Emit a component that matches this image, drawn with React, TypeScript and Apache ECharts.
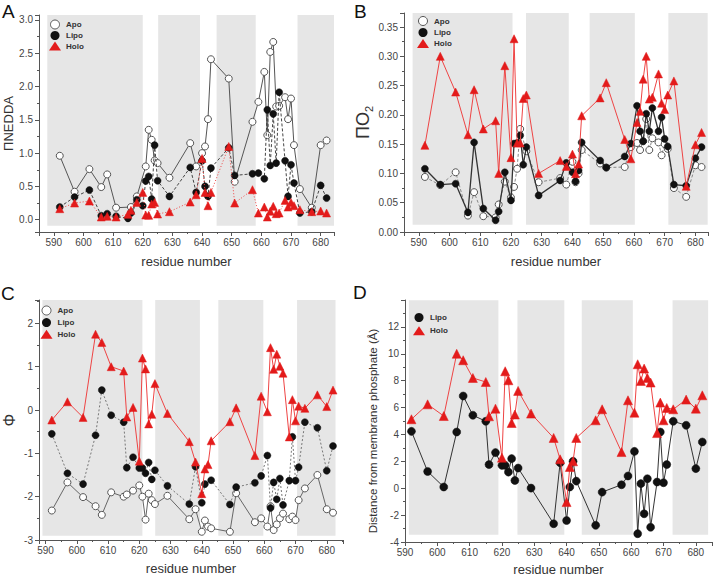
import { useEffect, useRef } from 'react';
import * as echarts from 'echarts';

// residue numbers shared by all panels
const residues = [592, 597, 602, 606, 608, 611, 615, 616, 618, 620, 621, 622, 623, 624, 625, 629, 636, 638, 640, 641, 642, 643, 649, 651, 657, 659, 661, 662, 663, 664, 665, 666, 668, 669, 670, 671, 673, 677, 680, 682];

// Panel A: Π NEDDA
const aApo = [0.96, 0.42, 0.76, 0.49, 0.68, 0.18, null, 0.19, 0.35, null, 0.80, 1.35, 1.20, 0.89, 0.85, 0.63, 1.15, 0.80, 1.00, 1.10, 1.51, 2.41, 2.12, 0.57, 1.47, 1.77, 2.22, 1.27, 2.52, 2.67, 1.70, 1.71, 1.84, 1.51, 1.82, 1.12, 0.46, 0.18, 1.12, 1.19];
const aLipo = [0.19, 0.34, 0.445, 0.06, 0.09, 0.05, 0.02, 0.10, 0.30, 0.21, 0.58, 0.65, 0.31, 1.12, 0.585, 0.35, 0.785, 0.41, 0.885, 0.50, 0.35, 0.775, 1.08, 0.665, 0.69, 0.70, 0.615, 1.65, 0.815, 1.59, 0.85, 1.915, 0.885, 0.35, 0.825, 0.55, 0.10, 0.12, 0.515, 0.325];
const aHolo = [0.165, 0.25, 0.28, 0.04, 0.05, 0.04, 0.08, 0.14, 0.26, 0.41, 0.07, 0.065, 0.235, 0.26, 0.085, 0.12, 0.265, 0.375, 0.92, 0.41, 0.21, 0.41, 1.10, 0.25, 0.45, 0.10, 0.19, 0.04, 0.125, 0.20, 0.09, 0.10, 0.29, 0.19, 0.26, 0.21, 0.15, 0.12, 0.13, 0.10];

// Panel B: Π O2
const bApo = [0.094, 0.08, 0.102, 0.028, 0.068, 0.027, 0.025, 0.047, 0.086, 0.059, 0.077, 0.108, 0.176, null, 0.138, 0.085, 0.092, 0.081, 0.12, 0.085, 0.10, 0.14, 0.117, 0.11, 0.111, 0.145, 0.152, 0.14, 0.155, 0.193, 0.14, 0.16, 0.153, 0.131, 0.15, 0.142, 0.075, 0.06, 0.114, 0.111];
const bLipo = [0.108, 0.081, 0.0825, 0.0335, 0.153, 0.04, 0.02, 0.035, 0.102, 0.054, 0.151, 0.152, 0.165, 0.115, 0.145, 0.0625, 0.088, 0.118, 0.102, 0.0865, 0.105, 0.153, 0.122, 0.11, 0.129, 0.151, 0.2156, 0.172, 0.155, 0.202, 0.172, 0.2117, 0.172, 0.196, 0.159, 0.146, 0.081, 0.079, 0.126, 0.145];
const bHolo = [0.148, 0.30, 0.239, 0.166, 0.243, 0.176, 0.19, 0.10, 0.284, 0.127, 0.33, 0.152, 0.152, 0.228, 0.234, 0.10, 0.122, 0.112, 0.133, 0.0995, 0.116, 0.1985, 0.229, 0.255, 0.158, 0.125, 0.187, 0.206, 0.261, 0.30, 0.227, 0.23, 0.27, 0.22, 0.209, 0.234, 0.258, 0.078, 0.149, 0.17];

// Panel C: Φ
const cApo = [-2.32, -1.67, -2.01, -2.22, -2.42, -1.90, -2.00, -1.95, -1.86, -1.74, -2.00, -2.53, -1.93, -2.08, -2.17, -1.98, -2.52, -2.29, -2.81, -2.55, -2.69, -2.73, -2.81, -1.92, -2.59, -2.50, -2.69, -2.22, -2.77, -2.64, -2.50, -2.39, -2.52, -2.46, -2.54, -2.08, -1.81, -1.50, -2.29, -2.37];
const cLipo = [-0.55, -1.46, -1.71, -0.58, 0.46, -0.12, -0.28, -1.33, -1.09, -1.34, -1.34, -1.46, -1.21, -1.60, -1.39, -1.75, -2.17, -1.31, -2.14, -1.71, null, -1.62, -2.18, -1.78, -1.68, -1.52, -1.05, -2.26, -1.67, -2.06, -1.58, -2.19, -1.63, -0.62, -1.63, -1.32, -0.28, -0.41, -1.40, -0.83];
const cHolo = [-0.23, 0.19, -0.17, 1.75, 1.56, 1.00, 0.90, -0.16, 0.06, -1.18, 1.20, 0.95, -0.32, -0.10, 0.61, -0.08, -0.73, -1.20, -1.93, -1.36, -1.26, -0.71, -0.27, 0.05, -1.05, 0.32, -0.04, 1.44, 0.94, 1.29, 1.01, 0.85, -0.62, 0.24, -0.25, 0.09, 0.04, 0.35, 0.08, 0.46];

// Panel D: distance from membrane phosphate (Å)
const dLipo = [4.23, 1.25, 0.09, 4.18, 6.86, 5.43, 4.98, 1.76, 2.65, 1.70, 1.70, 1.20, 2.20, 0.58, 1.50, 0.01, -2.64, 1.90, -2.40, 0.09, 2.00, 0.53, -2.76, -0.29, 0.26, 0.91, 2.74, -3.38, 0.34, -1.90, 0.71, -2.90, 0.46, 4.18, 0.41, 1.76, 4.98, 4.68, 1.46, 3.44];
const dHolo = [5.13, 6.24, 5.37, 10.0, 9.52, 8.20, 7.90, 5.35, 5.92, 2.27, 8.70, 8.03, 4.85, 5.48, 7.24, 5.55, 3.74, 2.15, -1.03, 1.58, 2.00, 3.74, 5.05, 5.87, 2.69, 6.54, 5.62, 9.22, 7.98, 8.90, 8.20, 7.86, 4.10, 6.37, 5.05, 5.97, 5.87, 6.59, 5.92, 6.91];

// shaded residue ranges per panel [start, end]
const bandsA = [[587.8, 620.0], [625.2, 639.3], [644.9, 658.1], [672.2, 684.5]];
const bandsB = [[588.0, 620.5], [624.9, 638.8], [645.6, 660.3], [671.2, 684.0]];
const bandsC = [[589.0, 621.0], [625.1, 639.4], [645.3, 659.7], [670.5, 682.8]];
const bandsD = [[591.2, 618.9], [624.8, 639.3], [644.7, 660.5], [672.8, 683.8]];
// vertical extent of shading [bottom, top]
const bandYA = [-0.09, 3.075];
const bandYB = [0.0125, 0.374];
const bandYC = [-2.9, 2.54];
const bandYD = [-3.46, 13.99];

const FONT = 'Liberation Sans, Arial, sans-serif';
const RED = '#e31b1b';
const RED_LINE = '#ee4444';

const pairs = (vals: (number | null)[]) =>
  residues.map((r, i) => [r, vals[i]]).filter((p) => p[1] !== null && p[1] !== undefined);

const bandSeries = (gi: number, bands: number[][], by: number[]) => ({
  type: 'custom',
  xAxisIndex: gi,
  yAxisIndex: gi,
  silent: true,
  z: 0,
  data: bands.map((b) => [b[0], b[1], by[0], by[1]]),
  encode: { x: [0, 1], y: [2, 3] },
  renderItem: (_p: any, api: any) => {
    const p1 = api.coord([api.value(0), api.value(3)]);
    const p2 = api.coord([api.value(1), api.value(2)]);
    return {
      type: 'rect',
      shape: { x: p1[0], y: p1[1], width: p2[0] - p1[0], height: p2[1] - p1[1] },
      style: { fill: '#e6e6e6' },
    };
  },
});

const lineSeries = (name: string, vals: (number | null)[], gi: number, kind: 'apo' | 'lipo' | 'holo', lineStyle: any, size = 7) => {
  const itemStyle =
    kind === 'apo'
      ? { color: '#fff', borderColor: '#555', borderWidth: 1 }
      : kind === 'lipo'
      ? { color: '#111', borderColor: '#111', borderWidth: 0.5 }
      : { color: RED, borderColor: RED, borderWidth: 0.5 };
  return {
    type: 'line',
    name,
    xAxisIndex: gi,
    yAxisIndex: gi,
    data: pairs(vals),
    symbol: kind === 'holo' ? 'triangle' : 'circle',
    symbolSize: kind === 'holo' ? size + 1 : size,
    showSymbol: true,
    showAllSymbol: true,
    connectNulls: true,
    silent: true,
    z: kind === 'apo' ? 2 : kind === 'lipo' ? 3 : 4,
    itemStyle,
    lineStyle,
  };
};

const xAxis = (gi: number, min: number, max: number, nameGap: number) => ({
  type: 'value',
  gridIndex: gi,
  min,
  max,
  splitNumber: 10,
  axisLine: { show: true, onZero: false, lineStyle: { color: '#555', width: 1 } },
  axisTick: { show: true, length: 4, lineStyle: { color: '#555' } },
  minorTick: { show: true, splitNumber: 2, length: 2, lineStyle: { color: '#555' } },
  splitLine: { show: false },
  axisLabel: {
    fontSize: 10,
    color: '#444',
    margin: 5,
    fontFamily: FONT,
    formatter: (v: number) => (Math.abs(v / 10 - Math.round(v / 10)) < 1e-6 ? String(Math.round(v)) : ''),
  },
  name: 'residue number',
  nameLocation: 'middle',
  nameGap,
  nameTextStyle: { fontSize: 13, color: '#333', fontFamily: FONT },
});

const yAxis = (gi: number, min: number, max: number, extra: any) => ({
  type: 'value',
  gridIndex: gi,
  min,
  max,
  axisLine: { show: true, onZero: false, lineStyle: { color: '#555', width: 1 } },
  axisTick: { show: true, length: 4, lineStyle: { color: '#555' } },
  minorTick: { show: true, splitNumber: 2, length: 2, lineStyle: { color: '#555' } },
  splitLine: { show: false },
  nameLocation: 'middle',
  ...extra,
});

const legend = (left: number, top: number, gap: number, names: string[]) => ({
  left,
  top,
  orient: 'vertical',
  padding: 0,
  itemGap: gap,
  itemWidth: 12,
  itemHeight: 9,
  selectedMode: false,
  textStyle: { fontSize: 8, fontWeight: 'bold', color: '#333', fontFamily: FONT, lineHeight: 9 },
  data: names.map((n) =>
    n === 'Apo'
      ? { name: n, icon: 'circle', itemStyle: { color: '#fff', borderColor: '#555', borderWidth: 1 } }
      : n === 'Lipo'
      ? { name: n, icon: 'circle', itemStyle: { color: '#111', borderColor: '#111', borderWidth: 0 } }
      : { name: n, icon: 'triangle', itemStyle: { color: RED, borderColor: RED, borderWidth: 0 } }
  ),
});

const letter = (text: string, left: number, top: number) => ({
  type: 'text',
  left,
  top,
  style: { text, fontSize: 19, fill: '#111', fontFamily: FONT },
});

export default function App() {
  const ref = useRef<HTMLDivElement>(null);
  useEffect(() => {
    if (!ref.current) return;
    const chart = echarts.init(ref.current, null, { renderer: 'svg' });
    const option: any = {
      animation: false,
      backgroundColor: '#fff',
      textStyle: { fontFamily: FONT },
      grid: [
        { left: 39, top: 15, width: 295, height: 217, containLabel: false, outerBoundsMode: 'none' },
        { left: 404, top: 13, width: 304, height: 219, containLabel: false, outerBoundsMode: 'none' },
        { left: 39, top: 300, width: 304, height: 240, containLabel: false, outerBoundsMode: 'none' },
        { left: 405, top: 300, width: 307, height: 242, containLabel: false, outerBoundsMode: 'none' },
      ],
      xAxis: [
        xAxis(0, 585, 684.5, 23),
        xAxis(1, 585.2, 684.1, 23),
        xAxis(2, 587.9, 685.2, 22),
        xAxis(3, 590, 685, 21),
      ],
      yAxis: [
        yAxis(0, -0.185, 3.075, {
          splitNumber: 6,
          axisLabel: {
            fontSize: 10, color: '#444', margin: 6, fontFamily: FONT,
            formatter: (v: number) => (Math.abs(v * 2 - Math.round(v * 2)) < 1e-6 ? v.toFixed(1) : ''),
          },
          name: 'ΠNEDDA',
          nameGap: 22,
          nameTextStyle: { fontSize: 13, color: '#333', fontFamily: FONT },
        }),
        yAxis(1, 0, 0.374, {
          interval: 0.05,
          axisLabel: {
            fontSize: 10, color: '#444', margin: 6, fontFamily: FONT,
            formatter: (v: number) => (Math.abs(v * 20 - Math.round(v * 20)) < 1e-6 ? v.toFixed(2) : ''),
          },
          name: '{a|ΠO}{b|2}',
          nameGap: 27,
          nameTextStyle: {
            color: '#333',
            fontFamily: FONT,
            rich: {
              a: { fontSize: 18, color: '#333', fontFamily: FONT, verticalAlign: 'bottom' },
              b: { fontSize: 11, color: '#333', fontFamily: FONT, verticalAlign: 'bottom', padding: [0, 0, -3, 0] },
            },
          },
        }),
        yAxis(2, -3, 2.54, {
          interval: 1,
          axisLabel: {
            fontSize: 10, color: '#444', margin: 6, fontFamily: FONT,
            formatter: (v: number) => (Math.abs(v - Math.round(v)) < 1e-6 ? String(Math.round(v)) : ''),
          },
          name: 'Φ',
          nameGap: 22,
          nameTextStyle: { fontSize: 16, color: '#333', fontFamily: FONT },
        }),
        yAxis(3, -4, 14, {
          interval: 2,
          axisLabel: {
            fontSize: 10, color: '#444', margin: 6, fontFamily: FONT,
            formatter: (v: number) => (v <= 12 ? String(v) : ''),
          },
          name: 'Distance from membrane phosphate (Å)',
          nameGap: 26,
          nameTextStyle: { fontSize: 11.5, color: '#333', fontFamily: FONT, padding: [0, 20, 0, 0] },
        }),
      ],
      legend: [
        legend(49, 19.5, 1.5, ['Apo', 'Lipo', 'Holo']),
        legend(417, 16, 2, ['Apo', 'Lipo', 'Holo']),
        legend(40.5, 305.5, 2.6, ['Apo', 'Lipo', 'Holo']),
        legend(413, 313, 4.3, ['Lipo', 'Holo']),
      ],
      graphic: [letter('A', 2, 2), letter('B', 354, 2), letter('C', 1, 284), letter('D', 353, 283)],
      series: [
        bandSeries(0, bandsA, bandYA),
        bandSeries(1, bandsB, bandYB),
        bandSeries(2, bandsC, bandYC),
        bandSeries(3, bandsD, bandYD),
        lineSeries('Apo', aApo, 0, 'apo', { color: '#555', width: 1 }),
        lineSeries('Lipo', aLipo, 0, 'lipo', { color: '#444', width: 1, type: [3, 2] }),
        lineSeries('Holo', aHolo, 0, 'holo', { color: RED_LINE, width: 1, type: [1, 2] }),
        lineSeries('Apo', bApo, 1, 'apo', { color: '#888', width: 1, type: [3, 2] }),
        lineSeries('Lipo', bLipo, 1, 'lipo', { color: '#333', width: 1.3 }),
        lineSeries('Holo', bHolo, 1, 'holo', { color: RED_LINE, width: 1 }),
        lineSeries('Apo', cApo, 2, 'apo', { color: '#666', width: 1 }),
        lineSeries('Lipo', cLipo, 2, 'lipo', { color: '#777', width: 1, type: [2, 2] }),
        lineSeries('Holo', cHolo, 2, 'holo', { color: RED_LINE, width: 1 }),
        lineSeries('Lipo', dLipo, 3, 'lipo', { color: '#333', width: 1 }, 8),
        lineSeries('Holo', dHolo, 3, 'holo', { color: RED_LINE, width: 1 }, 8),
      ],
    };
    chart.setOption(option);
    return () => chart.dispose();
  }, []);
  return (
    <div
      ref={ref}
      style={{ position: 'absolute', left: 0, top: 0, width: 713, height: 576, background: '#fff' }}
    />
  );
}
